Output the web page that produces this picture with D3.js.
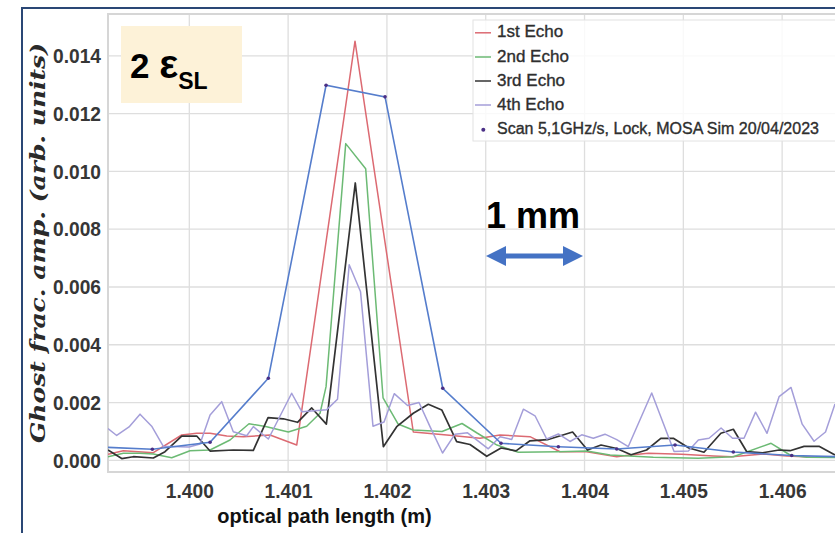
<!DOCTYPE html>
<html><head><meta charset="utf-8">
<script src="https://cdn.jsdelivr.net/npm/d3@7"></script>
<style>body{margin:0;background:#fff;overflow:hidden}svg{display:block}</style>
</head><body>
<svg id="chart" width="835" height="533"></svg>
<script>
// ---- data (optical path length in m, ghost fractional amplitude) ----
const xTicks = [1.400, 1.401, 1.402, 1.403, 1.404, 1.405, 1.406];
const yTicks = [0.000, 0.002, 0.004, 0.006, 0.008, 0.010, 0.012, 0.014];
const seriesNames = ["1st Echo", "2nd Echo", "3rd Echo", "4th Echo"];
const scanLabel = "Scan 5,1GHz/s, Lock, MOSA Sim 20/04/2023";

const echo1X = [1.399177,1.399332,1.399636,1.399923,1.400075,1.400210,1.400379,1.400547,1.400817,1.401087,1.401677,1.402267,1.402605,1.402942,1.403145,1.403448,1.403752,1.404022,1.404326,1.404461,1.404646,1.404984,1.405304,1.405490,1.405810,1.406047,1.406333,1.406535];
const echo1Y = [0.000208,0.000333,0.000263,0.000877,0.000936,0.000936,0.000842,0.000818,0.000877,0.000530,0.014509,0.000981,0.000877,0.000763,0.000877,0.000818,0.000298,0.000298,0.000125,0.000184,0.000243,0.000208,0.000149,0.000125,0.000218,0.000149,0.000104,0.000104];

const echo2X = [1.399177,1.399332,1.399501,1.399636,1.399822,1.400007,1.400210,1.400412,1.400604,1.400783,1.401002,1.401188,1.401323,1.401384,1.401583,1.401785,1.401961,1.402112,1.402264,1.402558,1.402760,1.402912,1.403114,1.403330,1.403735,1.404022,1.404258,1.404696,1.405152,1.405506,1.405888,1.406080,1.406249,1.406535];
const echo2Y = [0.000125,0.000243,0.000243,0.000218,0.000090,0.000333,0.000357,0.000704,0.001265,0.001165,0.000981,0.001182,0.001629,0.002551,0.010963,0.010096,0.002159,0.001258,0.001050,0.000998,0.001275,0.000946,0.000530,0.000277,0.000298,0.000322,0.000184,0.000104,0.000069,0.000125,0.000589,0.000184,0.000104,0.000097];

const echo3X = [1.399177,1.399316,1.399433,1.399636,1.399754,1.399923,1.400075,1.400210,1.400445,1.400648,1.400797,1.400951,1.401095,1.401239,1.401387,1.401680,1.401964,1.402099,1.402267,1.402419,1.402555,1.402706,1.402841,1.403010,1.403155,1.403307,1.403448,1.403625,1.403879,1.404030,1.404167,1.404326,1.404471,1.404628,1.404772,1.404899,1.405056,1.405209,1.405380,1.405506,1.405642,1.405802,1.405969,1.406080,1.406222,1.406373,1.406535];
const echo3Y = [0.000357,0.000062,0.000125,0.000080,0.000298,0.000835,0.000842,0.000322,0.000357,0.000347,0.001477,0.001438,0.001317,0.001813,0.001251,0.009601,0.000471,0.001165,0.001629,0.001941,0.001743,0.000645,0.000548,0.000139,0.000426,0.000329,0.000676,0.000714,0.000981,0.000357,0.000530,0.000409,0.000194,0.000357,0.000763,0.000763,0.000426,0.000281,0.000936,0.001074,0.000298,0.000263,0.000357,0.000333,0.000485,0.000485,0.000184];

const echo4X = [1.399177,1.399265,1.399390,1.399501,1.399619,1.399737,1.399906,1.399997,1.400108,1.400210,1.400328,1.400445,1.400581,1.400648,1.400800,1.401036,1.401138,1.401391,1.401500,1.401618,1.401733,1.401859,1.401971,1.402074,1.402209,1.402325,1.402436,1.402563,1.402689,1.402816,1.403026,1.403145,1.403263,1.403381,1.403499,1.403617,1.403735,1.403853,1.403972,1.404089,1.404207,1.404326,1.404443,1.404680,1.404906,1.405051,1.405152,1.405260,1.405382,1.405498,1.405614,1.405731,1.405847,1.405969,1.406090,1.406203,1.406323,1.406439,1.406535];
const echo4Y = [0.001102,0.000860,0.001154,0.001598,0.001182,0.000485,0.000471,0.000461,0.000565,0.001570,0.002031,0.000991,0.000849,0.001165,0.000738,0.002322,0.001684,0.001754,0.002114,0.006769,0.005833,0.001182,0.001327,0.002308,0.001899,0.002003,0.001165,0.000253,0.000905,0.000953,0.000399,0.000818,0.000721,0.001771,0.001542,0.000738,0.000912,0.000652,0.000884,0.000763,0.000905,0.000717,0.000478,0.002333,0.000305,0.000322,0.000704,0.000763,0.001120,0.000763,0.000763,0.001667,0.000936,0.002204,0.002523,0.001251,0.000659,0.000981,0.001951];

const scanX = [1.399035,1.399626,1.400210,1.400800,1.401384,1.401981,1.402565,1.403155,1.403735,1.404326,1.404916,1.405506,1.406097,1.406687];
const scanY = [0.000471,0.000381,0.000624,0.002842,0.012984,0.012582,0.002496,0.000589,0.000471,0.000392,0.000530,0.000288,0.000166,0.000114];

// ---- layout ----
const W = 835, H = 533;
const plot = {left: 108, top: 14, right: 835, bottom: 472};
const colors = ["#dc6a72", "#6cba74", "#333333", "#a49ed9"];
const scanColor = "#557dcc", dotColor = "#4a2f86";

const svg = d3.select("#chart");
const x = d3.scaleLinear().domain([1.399177, 1.406535]).range([plot.left, plot.right]);
const y = d3.scaleLinear().domain([-0.000404, 0.01545]).range([plot.bottom, plot.top]);

// outer frame
svg.append("path").attr("d", `M22,${H} L22,8 L${W},8`).attr("fill","none")
  .attr("stroke","#2a4775").attr("stroke-width",2);

// grid
const grid = svg.append("g").attr("stroke","#dedede").attr("stroke-width",1.3);
grid.selectAll(".gy").data(yTicks).join("line")
  .attr("x1", plot.left).attr("x2", W).attr("y1", d=>y(d)).attr("y2", d=>y(d));
grid.selectAll(".gx").data(xTicks).join("line")
  .attr("y1", plot.top).attr("y2", plot.bottom).attr("x1", d=>x(d)).attr("x2", d=>x(d));
// plot border
svg.append("path").attr("d", `M${W},${plot.top} L${plot.left},${plot.top} L${plot.left},${plot.bottom} L${W},${plot.bottom}`)
  .attr("fill","none").attr("stroke","#d6d6d6").attr("stroke-width",2);

// axes
const fmt = d3.format(".3f");
const yAxis = svg.append("g").attr("transform", `translate(${plot.left},0)`)
  .call(d3.axisLeft(y).tickValues(yTicks).tickFormat(fmt).tickSize(0).tickPadding(7));
const xAxis = svg.append("g").attr("transform", `translate(0,${plot.bottom})`)
  .call(d3.axisBottom(x).tickValues(xTicks).tickFormat(fmt).tickSize(0).tickPadding(11));
[yAxis, xAxis].forEach(a => {
  a.select(".domain").remove();
  a.selectAll("text").attr("font-family","'Liberation Sans', Arial, sans-serif")
    .attr("font-weight","bold").attr("font-size",21).attr("fill","#363636")
    .attr("textLength",48).attr("lengthAdjust","spacingAndGlyphs");
});

// axis titles
svg.append("text").attr("x", 324.5).attr("y", 523).attr("text-anchor","middle")
  .attr("font-family","'Liberation Sans', Arial, sans-serif").attr("font-weight","bold")
  .attr("font-size",20).attr("fill","#111").text("optical path length (m)");
svg.append("text").attr("transform","translate(45,243) rotate(-90)").attr("text-anchor","middle")
  .attr("font-family","'DejaVu Serif', serif").attr("font-weight","bold").attr("font-style","italic")
  .attr("font-size",21).attr("fill","#2a2a2a").attr("textLength",400).attr("lengthAdjust","spacingAndGlyphs")
  .text("Ghost frac. amp. (arb. units)");

// lines
svg.append("clipPath").attr("id","clip").append("rect")
  .attr("x",plot.left).attr("y",plot.top).attr("width",W-plot.left).attr("height",plot.bottom-plot.top);
const g = svg.append("g").attr("clip-path","url(#clip)");
const line = d3.line().x(d=>x(d[0])).y(d=>y(d[1]));
const echoes = [[echo1X,echo1Y],[echo2X,echo2Y],[echo3X,echo3Y],[echo4X,echo4Y]];
echoes.forEach(([xs,ys],i) => {
  g.append("path").datum(xs.map((v,j)=>[v,ys[j]])).attr("d", line)
    .attr("fill","none").attr("stroke",colors[i]).attr("stroke-width", i===2?1.7:1.5)
    .attr("stroke-linejoin","round");
});
const scanData = scanX.map((v,j)=>[v,scanY[j]]);
g.append("path").datum(scanData).attr("d", line).attr("fill","none")
  .attr("stroke",scanColor).attr("stroke-width",1.6);
g.selectAll(".dot").data(scanData).join("circle")
  .attr("cx", d=>x(d[0])).attr("cy", d=>y(d[1])).attr("r",1.8).attr("fill",dotColor);

// legend
const lg = svg.append("g");
lg.append("rect").attr("x",473).attr("y",20).attr("width",400).attr("height",121)
  .attr("fill","#fff").attr("fill-opacity",0.82).attr("stroke","#e2e2e2").attr("stroke-width",1);
const baselines = [37.3, 61.5, 85.5, 109.5, 133.5];
const legendFont = sel => sel.attr("font-family","'Liberation Sans', Arial, sans-serif")
  .attr("font-size",17).attr("fill","#2e2e2e").attr("stroke","#2e2e2e").attr("stroke-width",0.35);
seriesNames.forEach((n,i) => {
  lg.append("line").attr("x1",475).attr("x2",491).attr("y1",baselines[i]-4.5).attr("y2",baselines[i]-4.5)
    .attr("stroke",colors[i]).attr("stroke-width",1.5);
  lg.append("text").attr("x",497).attr("y",baselines[i]).call(legendFont).text(n);
});
lg.append("circle").attr("cx",483.3).attr("cy",baselines[4]-3.8).attr("r",2).attr("fill",dotColor);
lg.append("text").attr("x",497).attr("y",baselines[4]).call(legendFont)
  .attr("font-size",16).text(scanLabel);

// "2 εSL" annotation
svg.append("rect").attr("x",121).attr("y",26).attr("width",121).attr("height",77).attr("fill","#fdf2d8");
const t = svg.append("text").attr("x",130).attr("y",78.3)
  .attr("font-family","'Liberation Sans', Arial, sans-serif").attr("font-weight","bold").attr("fill","#000");
t.append("tspan").attr("font-size",35).text("2 ");
t.append("tspan").attr("font-size",40).text("ε");
t.append("tspan").attr("font-size",23).attr("dy",11).text("SL");

// "1 mm" annotation
svg.append("text").attr("x",486).attr("y",228).attr("font-family","'Liberation Sans', Arial, sans-serif")
  .attr("font-weight","bold").attr("font-size",36).attr("fill","#000").text("1 mm");
svg.append("path").attr("d","M486,256 L506,246 L506,253.5 L563,253.5 L563,246 L583,256 L563,266 L563,258.5 L506,258.5 L506,266 Z")
  .attr("fill","#4472c4");
</script>
</body></html>
